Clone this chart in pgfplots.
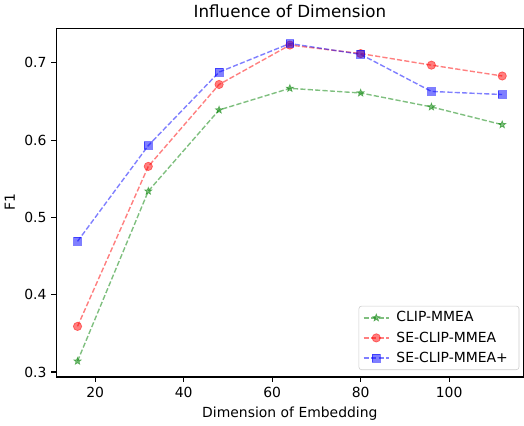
\documentclass[border=0pt]{standalone}
\usepackage{pgfplots}
\pgfplotsset{compat=1.18}
\usepackage{fontspec}
\setmainfont{DejaVu Sans}
\usetikzlibrary{plotmarks}

% filled five-point star, like matplotlib's '*'
\pgfdeclareplotmark{fstar}{%
  \pgfpathmoveto{\pgfpointpolar{90}{\pgfplotmarksize}}%
  \foreach \a in {1,...,9}{%
    \pgfmathsetmacro{\ang}{90+36*\a}%
    \ifodd\a
      \pgfpathlineto{\pgfpointpolar{\ang}{0.42\pgfplotmarksize}}%
    \else
      \pgfpathlineto{\pgfpointpolar{\ang}{\pgfplotmarksize}}%
    \fi
  }%
  \pgfpathclose
  \pgfusepathqfillstroke
}

\definecolor{mplgreen}{rgb}{0,0.5,0}
\definecolor{mplred}{rgb}{1,0,0}
\definecolor{mplblue}{rgb}{0,0,1}

\begin{document}
\begin{tikzpicture}
  \begin{axis}[
      width=335.5pt, height=250.6pt,
      scale only axis,
      xmin=11.2, xmax=116.8,
      ymin=0.2935, ymax=0.745,
      xtick={20,40,60,80,100},
      ytick={0.3,0.4,0.5,0.6,0.7},
      tick align=outside,
      tick pos=left,
      major tick length=3.5pt,
      every tick/.style={black, line width=0.8pt},
      axis line style={line width=0.8pt},
      /pgf/number format/assume math mode=true,
      yticklabel style={/pgf/number format/fixed, /pgf/number format/precision=1, /pgf/number format/fixed zerofill},
      tick label style={font=\fontsize{10}{12}\selectfont},
      label style={font=\fontsize{10}{12}\selectfont},
      title style={font=\fontsize{12}{14}\selectfont, yshift=-2pt},
      title={Influence of Dimension},
      xlabel={Dimension of Embedding},
      ylabel={F1},
      legend style={
        at={(1,0)}, anchor=south east, xshift=-3pt, yshift=5pt,
        draw=black!20, rounded corners=2pt, fill=white, fill opacity=0.8,
        text opacity=1, font=\fontsize{10}{12}\selectfont,
        row sep=1.5pt, inner xsep=3pt, inner ysep=2pt,
        nodes={inner xsep=5pt},
      },
      legend cell align=left,
      legend image code/.code={%
        \draw[mark repeat=2, mark phase=2]
          plot coordinates {(0pt,0pt) (9pt,0pt) (18pt,0pt)};},
      every axis plot/.append style={line width=1pt, dash pattern=on 3.7pt off 1.6pt,
        opacity=0.5, mark options={solid, line width=0.5pt}},
    ]
    \addplot[color=mplgreen, mark=fstar, mark size=2.7pt] coordinates {
      (16,0.314) (32,0.534) (48,0.639) (64,0.667) (80,0.661) (96,0.643) (112,0.620)};
    \addplot[color=mplred, mark=*, mark size=3pt] coordinates {
      (16,0.359) (32,0.566) (48,0.672) (64,0.723) (80,0.712) (96,0.697) (112,0.683)};
    \addplot[color=mplblue, mark=square*, mark size=2.8pt] coordinates {
      (16,0.469) (32,0.593) (48,0.688) (64,0.725) (80,0.711) (96,0.663) (112,0.659)};
    \legend{CLIP-MMEA, SE-CLIP-MMEA, SE-CLIP-MMEA+}
  \end{axis}
\end{tikzpicture}
\end{document}
